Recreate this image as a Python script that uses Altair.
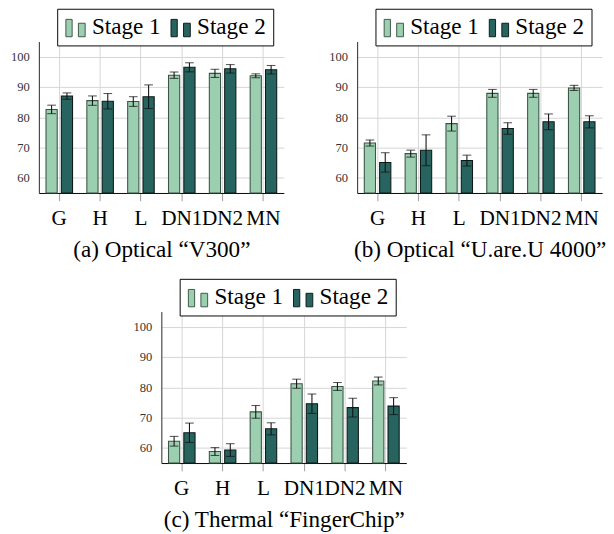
import altair as alt
import pandas as pd

categories = ["G", "H", "L", "DN1", "DN2", "MN"]
stages = ["Stage 1", "Stage 2"]

# (a) Optical "V300"
a_stage1 = [82.6, 85.5, 85.2, 93.9, 94.5, 93.7]
a_stage1_err = [1.4, 1.55, 1.6, 1.05, 1.35, 0.65]
a_stage2 = [87.0, 85.3, 86.8, 96.5, 96.0, 95.7]
a_stage2_err = [1.05, 2.55, 3.9, 1.5, 1.4, 1.4]

# (b) Optical "U.are.U 4000"
b_stage1 = [71.5, 68.0, 77.9, 87.9, 87.9, 89.7]
b_stage1_err = [1.0, 1.15, 2.45, 1.3, 1.3, 0.85]
b_stage2 = [65.1, 69.1, 65.7, 76.3, 78.5, 78.5]
b_stage2_err = [3.2, 5.1, 1.8, 1.9, 2.6, 2.0]

# (c) Thermal "FingerChip"
c_stage1 = [62.2, 58.8, 71.9, 81.2, 80.3, 82.1]
c_stage1_err = [1.6, 1.3, 2.1, 1.5, 1.3, 1.3]
c_stage2 = [65.0, 59.3, 66.3, 74.6, 73.3, 73.8]
c_stage2_err = [3.2, 2.1, 2.0, 3.2, 3.1, 2.8]

captions = ["(a) Optical \u201cV300\u201d",
            "(b) Optical \u201cU.are.U 4000\u201d",
            "(c) Thermal \u201cFingerChip\u201d"]

y_domain = [55, 105]
y_ticks = [60, 70, 80, 90, 100]

FONT = "Liberation Serif"
C1 = "#9CCFB0"
C2 = "#28645F"
LEGEND_PATH = "M-1,-0.8H-0.35V1H-1Z M0.3,-0.4H1V1H0.3Z"


def panel(s1, e1, s2, e2, caption):
    rows = []
    for i, c in enumerate(categories):
        rows.append(dict(cat=c, stage="Stage 1", val=s1[i], lo=s1[i] - e1[i], hi=s1[i] + e1[i]))
        rows.append(dict(cat=c, stage="Stage 2", val=s2[i], lo=s2[i] - e2[i], hi=s2[i] + e2[i]))
    df = pd.DataFrame(rows)

    x_axis = alt.Axis(title=caption, labelAngle=0, bandPosition=0.5, grid=True,
                      labelFont=FONT, labelFontSize=22, labelColor="black",
                      tickSize=8, tickColor="#999999",
                      labelPadding=8, titleFont=FONT, titleFontSize=24, titleFontWeight="normal",
                      titleColor="black", titlePadding=10, domainColor="black")
    x = alt.X("cat:N", sort=categories,
              scale=alt.Scale(paddingInner=0.35, paddingOuter=0.175), axis=x_axis)
    xo = alt.XOffset("stage:N", sort=stages,
                     scale=alt.Scale(paddingInner=0.27, paddingOuter=0))
    y_scale = alt.Scale(domain=y_domain, nice=False, zero=False)
    y_axis = alt.Axis(values=y_ticks, title=None, labelFont=FONT, labelFontSize=13,
                      labelColor="#333333",
                      tickSize=0, labelPadding=10, grid=True, domainColor="#222222")

    base = alt.Chart(df)
    bars = base.mark_bar(strokeWidth=1.1).encode(
        x=x, xOffset=xo,
        y=alt.Y("val:Q", scale=y_scale, axis=y_axis),
        y2=alt.datum(y_domain[0]),
        color=alt.Color("stage:N", sort=stages,
                        scale=alt.Scale(domain=stages, range=[C1, C2]),
                        legend=alt.Legend(title=None, orient="none", legendX=19, legendY=-34,
                                          direction="horizontal", columns=2,
                                          symbolType=LEGEND_PATH, symbolSize=400,
                                          symbolStrokeColor="#333333", symbolStrokeWidth=1,
                                          symbolOpacity=1,
                                          labelFont=FONT, labelFontSize=24, labelColor="black",
                                          labelOffset=5, columnPadding=8, padding=7,
                                          strokeColor="black", fillColor="white")),
        stroke=alt.Stroke("stage:N", sort=stages,
                          scale=alt.Scale(domain=stages, range=["#3b5446", "#0d1a18"]),
                          legend=None),
    )
    rules = base.mark_rule(color="#111111", strokeWidth=1.1).encode(
        x=x, xOffset=xo,
        y=alt.Y("lo:Q", scale=y_scale, axis=y_axis),
        y2="hi:Q",
    )
    caps_lo = base.mark_tick(color="#111111", size=9, thickness=1.1).encode(
        x=x, xOffset=xo, y=alt.Y("lo:Q", scale=y_scale, axis=y_axis))
    caps_hi = base.mark_tick(color="#111111", size=9, thickness=1.1).encode(
        x=x, xOffset=xo, y=alt.Y("hi:Q", scale=y_scale, axis=y_axis))
    return alt.layer(bars, rules, caps_lo, caps_hi).properties(width=254, height=157)


pa = panel(a_stage1, a_stage1_err, a_stage2, a_stage2_err, captions[0])
pb = panel(b_stage1, b_stage1_err, b_stage2, b_stage2_err, captions[1])
pc = panel(c_stage1, c_stage1_err, c_stage2, c_stage2_err, captions[2])

spacer = alt.Chart(pd.DataFrame({"v": [0]})).mark_point(opacity=0).encode(
    x=alt.value(0), y=alt.value(0)).properties(width=96, height=10)

top = alt.hconcat(pa, pb, spacing=46).resolve_scale(color="independent", stroke="independent")
bottom = alt.hconcat(spacer, pc, spacing=1).resolve_scale(color="independent", stroke="independent")

chart = alt.vconcat(top, bottom, spacing=17).resolve_scale(
    color="independent", stroke="independent"
).properties(
    padding={"left": 2, "top": -10, "right": 0, "bottom": 0}
).configure_view(strokeWidth=0).configure_axis(
    labelFont=FONT, titleFont=FONT, gridColor="#d4d4d4", gridWidth=1
).configure_legend(labelFont=FONT)

chart.save("out.html", embed_options={"renderer": "svg", "actions": False})
